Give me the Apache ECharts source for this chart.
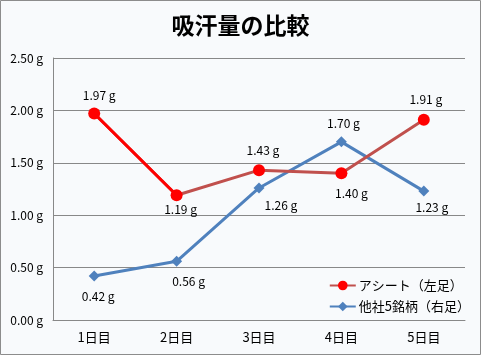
<!DOCTYPE html>
<html><head><meta charset="utf-8">
<script src="https://cdn.jsdelivr.net/npm/echarts@6/dist/echarts.min.js"></script>
<style>html,body{margin:0;padding:0;background:#fff}#c{width:481px;height:355px}</style>
</head><body><div id="c"></div>
<script>
const title = '吸汗量の比較';
const categories = ['1日目','2日目','3日目','4日目','5日目'];
const seriesNames = ['アシート（左足）','他社5銘柄（右足）'];
const asheet = [1.97, 1.19, 1.43, 1.40, 1.91];
const others = [0.42, 0.56, 1.26, 1.70, 1.23];

// label placement (style only)
const redLabelPos = ['top','bottom','top','bottom','top'];
const redLabelOff = [[5,2],[4,-6],[4,0],[10,0],[2,0]];
const blueLabelPos = ['bottom','bottom','bottom','top','bottom'];
const blueLabelOff = [[4,0],[12,0],[22,-3],[2,2],[8,-4]];

const font = '"Noto Sans CJK JP", "Noto Sans", sans-serif';
const chart = echarts.init(document.getElementById('c'));
const fmt = v => v.toFixed(2) + ' g';
chart.setOption({
  backgroundColor: '#F8FAFC',
  animation: false,
  textStyle: { fontFamily: font },
  title: { text: title, left: 'center', top: 9, textStyle: { fontSize: 23, fontWeight: 'bold', color: '#000', fontFamily: font } },
  graphic: [{ type: 'rect', shape: { x: 0.5, y: 0.5, width: 480, height: 354 }, style: { fill: 'none', stroke: '#8c8c8c', lineWidth: 1 }, silent: true }],
  grid: { left: 53, right: 16, top: 58, bottom: 35 },
  legend: {
    orient: 'vertical', right: 6, top: 274, itemGap: 8, itemWidth: 26, itemHeight: 12,
    textStyle: { fontSize: 13, color: '#000', fontFamily: font, padding: [0,0,0,-2] },
    data: seriesNames
  },
  xAxis: {
    type: 'category', data: categories, boundaryGap: true,
    axisLine: { lineStyle: { color: '#888', width: 1 } },
    axisTick: { show: false },
    axisLabel: { color: '#000', fontSize: 13, margin: 11, fontFamily: font }
  },
  yAxis: {
    type: 'value', min: 0, max: 2.5, interval: 0.5,
    axisLine: { show: true, lineStyle: { color: '#888' } },
    axisTick: { show: false },
    splitLine: { lineStyle: { color: '#888', width: 1 } },
    axisLabel: { color: '#000', fontSize: 12, margin: 10, formatter: v => v.toFixed(2) + ' g', fontFamily: font }
  },
  series: [
    {
      name: seriesNames[0], type: 'line',
      data: asheet.map((v,i)=>({ value: v, label: { position: redLabelPos[i], offset: redLabelOff[i] } })),
      symbol: 'circle', symbolSize: 12, z: 3,
      lineStyle: { color: '#C0504D', width: 3 },
      itemStyle: { color: '#FF0000' },
      label: { show: true, formatter: p => fmt(p.value), fontSize: 12, color: '#000', distance: 8, fontFamily: font }
    },
    {
      name: '_seg', type: 'line', data: asheet.map((v,i)=> i < 2 ? v : null),
      symbol: 'none', z: 3, silent: true,
      lineStyle: { color: '#FF0000', width: 3 }, itemStyle: { color: '#FF0000' }
    },
    {
      name: seriesNames[1], type: 'line',
      data: others.map((v,i)=>({ value: v, label: { position: blueLabelPos[i], offset: blueLabelOff[i] } })),
      symbol: 'diamond', symbolSize: 11, z: 2,
      lineStyle: { color: '#4F81BD', width: 3 },
      itemStyle: { color: '#4F81BD' },
      label: { show: true, formatter: p => fmt(p.value), fontSize: 12, color: '#000', distance: 9, fontFamily: font }
    }
  ]
});
</script></body></html>
